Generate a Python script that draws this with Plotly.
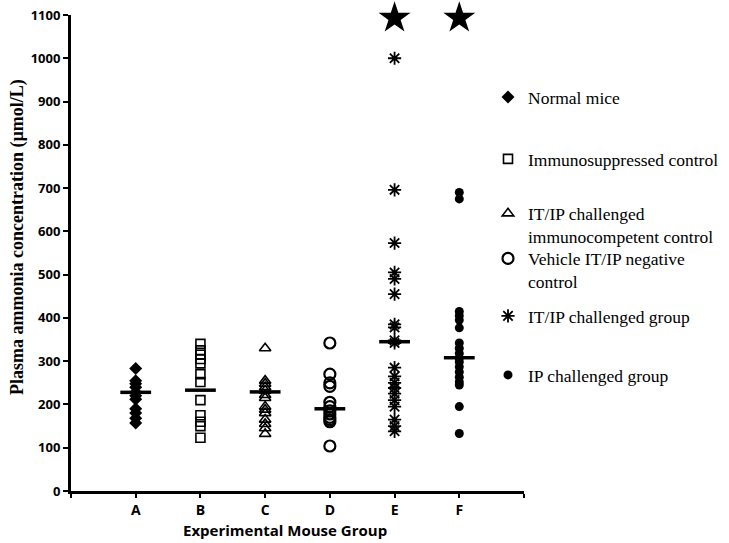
import plotly.graph_objects as go

groups = ["A", "B", "C", "D", "E", "F"]
series_names = ["Normal mice", "Immunosuppressed control",
                "IT/IP challenged<br>immunocompetent control",
                "Vehicle IT/IP negative<br>control",
                "IT/IP challenged group", "IP challenged group"]

vals_A = [283, 255, 248, 240, 228, 220, 212, 190, 180, 168, 157]
vals_B = [340, 325, 315, 305, 295, 270, 252, 210, 175, 160, 150, 123]
vals_C = [330, 255, 248, 240, 232, 222, 215, 195, 188, 180, 165, 155, 145, 132]
vals_D = [342, 270, 250, 242, 205, 195, 185, 178, 170, 165, 160, 104]
vals_E = [1000, 696, 573, 505, 490, 455, 385, 378, 348, 342, 285, 265, 250,
          238, 225, 210, 195, 165, 150, 138]
vals_F = [690, 675, 415, 405, 395, 377, 342, 330, 318, 307, 298, 287, 275,
          263, 252, 245, 195, 133]
means = [228, 233, 229, 190, 345, 308]
star_groups = ["E", "F"]
star_level = [1093, 1093]
y_ticks = list(range(0, 1101, 100))

all_vals = [vals_A, vals_B, vals_C, vals_D, vals_E, vals_F]
symbols = ["diamond", "square-open", "triangle-up-open", "circle-open",
           "asterisk-open", "circle"]
sizes = [10, 9, 10, 11, 11, 9]
lw = [0, 1.6, 1.6, 2.2, 1.8, 0]

pos = {g: i + 1 for i, g in enumerate(groups)}

# pixel geometry helpers (plot area: x 71..524, y 15..491)
L, R, T, B = 71, 524, 15, 491
W, H = 729, 543
def px_x(p):
    return (p - L) / (R - L)
def px_y(p):
    return (B - p) / (B - T)

legend_centers = [97, 159, 225, 270, 316, 375]

fig = go.Figure()
for i, (name, v) in enumerate(zip(series_names, all_vals)):
    lname = "legend" if i == 0 else f"legend{i+1}"
    fig.add_trace(go.Scatter(
        x=[pos[groups[i]]] * len(v), y=v, mode="markers", name=name,
        marker=dict(symbol=symbols[i], size=sizes[i], color="black",
                    line=dict(color="black", width=lw[i])),
        legend=lname, cliponaxis=False))

fig.add_trace(go.Scatter(
    x=[pos[g] for g in groups], y=means, mode="markers", showlegend=False,
    marker=dict(symbol="line-ew-open", size=22, color="black",
                line=dict(color="black", width=3.5))))
fig.add_trace(go.Scatter(
    x=[pos[g] for g in star_groups], y=star_level, mode="markers",
    showlegend=False, cliponaxis=False,
    marker=dict(symbol="star", size=24, color="black")))

legend_font = dict(family="Liberation Serif", size=17.5, color="black")
layout_legends = {}
for i, c in enumerate(legend_centers):
    lname = "legend" if i == 0 else f"legend{i+1}"
    layout_legends[lname] = dict(
        x=px_x(488), y=px_y(c), xanchor="left", yanchor="middle",
        xref="paper", yref="paper", font=legend_font,
        bgcolor="rgba(0,0,0,0)", borderwidth=0, valign="top",
        itemwidth=30, tracegroupgap=0)

fig.update_layout(
    width=W, height=H,
    margin=dict(l=L, r=W - R, t=T, b=H - B, autoexpand=False),
    plot_bgcolor="white", paper_bgcolor="white",
    font=dict(family="Open Sans", color="black"),
    **layout_legends,
    xaxis=dict(range=[0, 7], tickvals=list(range(0, 8)),
               ticktext=[""] + groups + [""],
               showline=True, linecolor="black", linewidth=3,
               ticks="outside", ticklen=4, tickwidth=2, tickcolor="black",
               showgrid=False, zeroline=False, automargin=False,
               tickfont=dict(family="Open Sans", size=14, color="black",
                             weight="bold")),
    yaxis=dict(range=[0, 1100], tickvals=y_ticks,
               showline=True, linecolor="black", linewidth=3,
               ticks="outside", ticklen=5, tickwidth=2, tickcolor="black",
               showgrid=False, zeroline=False, automargin=False,
               tickfont=dict(family="Open Sans", size=13, color="black",
                             weight="bold")),
    annotations=[
        dict(text="<b>Experimental Mouse Group</b>", xref="paper",
             yref="paper", x=px_x(285), y=px_y(530), showarrow=False,
             xanchor="center", yanchor="middle",
             font=dict(family="Open Sans", size=15, color="black")),
        dict(text="<b>Plasma ammonia concentration (µmol/L)</b>",
             xref="paper", yref="paper", x=px_x(17), y=px_y(237),
             showarrow=False, textangle=-90, xanchor="center",
             yanchor="middle",
             font=dict(family="Liberation Serif", size=18, color="black")),
    ],
)

fig.write_html("out.html",
               config={"displayModeBar": False},
               post_script="document.body.style.margin='0';"
                           "document.body.style.overflow='hidden';")
